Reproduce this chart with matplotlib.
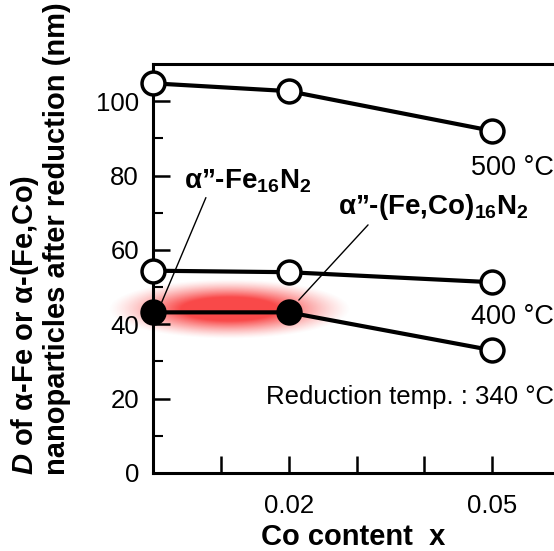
import numpy as np
import matplotlib
matplotlib.use("Agg")
import matplotlib.pyplot as plt

plt.rcParams['font.family'] = ['Liberation Sans', 'DejaVu Sans']
plt.rcParams['mathtext.fontset'] = 'custom'
plt.rcParams['mathtext.rm'] = 'Liberation Sans'
plt.rcParams['mathtext.bf'] = 'Liberation Sans:bold'
plt.rcParams['mathtext.it'] = 'Liberation Sans:italic:bold'
plt.rcParams['mathtext.default'] = 'regular'

# Data
co_content = [0.0, 0.02, 0.05]
d_500 = [104.8, 102.7, 92.0]
d_400 = [54.4, 54.0, 51.3]
d_340 = [43.2, 43.2, 33.0]
filled_340 = [True, True, False]
x_ticks = [0.01, 0.02, 0.03, 0.04, 0.05]
x_ticklabels = ["", "0.02", "", "", "0.05"]
y_ticks = [0, 20, 40, 60, 80, 100]

fig = plt.figure(figsize=(5.54, 5.51), dpi=100)
ax = fig.add_axes([0.276, 0.1416, 0.724, 0.7423])
ax.set_xlim(0, 0.0591)
ax.set_ylim(0, 110)

# red glow behind the alpha''-phase points
gx = np.linspace(-1, 1, 300)
gy = np.linspace(-1, 1, 120)
GX, GY = np.meshgrid(gx, gy)
r = np.sqrt(GX**2 + GY**2)
alpha = np.clip((1 - r) / 0.6, 0, 1) ** 1.3
img = np.zeros((120, 300, 4))
img[..., 0] = 0.98
img[..., 1] = 0.25
img[..., 2] = 0.25
img[..., 3] = alpha * 0.95
x0 = (108 - 153) / 6780.0
x1 = (350 - 153) / 6780.0
ax.imshow(img, extent=[x0, x1, 44.0 - 8.0, 44.0 + 8.0], aspect='auto',
          zorder=0.5, clip_on=False, interpolation='bilinear')

lw = 3.0
ms = 16.5
mew = 2.5
for ys in (d_500, d_400):
    ax.plot(co_content, ys, color='black', lw=lw, zorder=3, clip_on=False)
    ax.plot(co_content, ys, 'o', ms=ms, mfc='white', mec='black', mew=mew,
            zorder=4, clip_on=False)
ax.plot(co_content, d_340, color='black', lw=lw, zorder=3, clip_on=False)
for xv, yv, f in zip(co_content, d_340, filled_340):
    ax.plot([xv], [yv], 'o', ms=ms, mfc='black' if f else 'white', mec='black',
            mew=mew, zorder=4, clip_on=False)

# axes styling
ax.spines['right'].set_visible(False)
for s in ('left', 'bottom', 'top'):
    ax.spines[s].set_linewidth(2.2)
ax.set_xticks(x_ticks)
ax.set_xticklabels(x_ticklabels)
ax.set_yticks(y_ticks)
ax.set_yticks(np.arange(10, 110, 20), minor=True)
ax.tick_params(axis='both', which='major', direction='in', length=12, width=1.8,
               labelsize=18.5, pad=10)
ax.tick_params(axis='y', which='minor', direction='in', length=7, width=1.5)
ax.tick_params(axis='x', which='major', pad=15)
ax.tick_params(top=False, right=False)

ax.set_xlabel('Co content  x', fontsize=21, fontweight='bold', labelpad=4)
fig.text(40 / 554, (551 - 475) / 551,
         '$\\it{D}$ of α-Fe or α-(Fe,Co)\nnanoparticles after reduction (nm)',
         rotation=90, ha='center', va='bottom', multialignment='left',
         fontsize=21, fontweight='bold', linespacing=1.1)

# annotations
ax.annotate('α”-Fe$_{16}$N$_{2}$', xy=(0.0012, 45.5), xytext=(0.0046, 78.5),
            fontsize=20, fontweight='bold', ha='left', va='center',
            arrowprops=dict(arrowstyle='-', lw=1.0, color='black',
                            shrinkA=0, shrinkB=0, relpos=(0.18, 0.0)))
ax.annotate('α”-(Fe,Co)$_{16}$N$_{2}$', xy=(0.0215, 46.5), xytext=(0.0273, 71.5),
            fontsize=20, fontweight='bold', ha='left', va='center',
            arrowprops=dict(arrowstyle='-', lw=1.0, color='black',
                            shrinkA=0, shrinkB=0, relpos=(0.17, 0.0)))

ax.text(0.0591, 82, '500 °C', fontsize=19.5, ha='right', va='center')
ax.text(0.0591, 42, '400 °C', fontsize=19.5, ha='right', va='center')
ax.text(0.0591, 20.3, 'Reduction temp. : 340 °C', fontsize=18.5, ha='right', va='center')

fig.savefig('out.png', dpi=100)
